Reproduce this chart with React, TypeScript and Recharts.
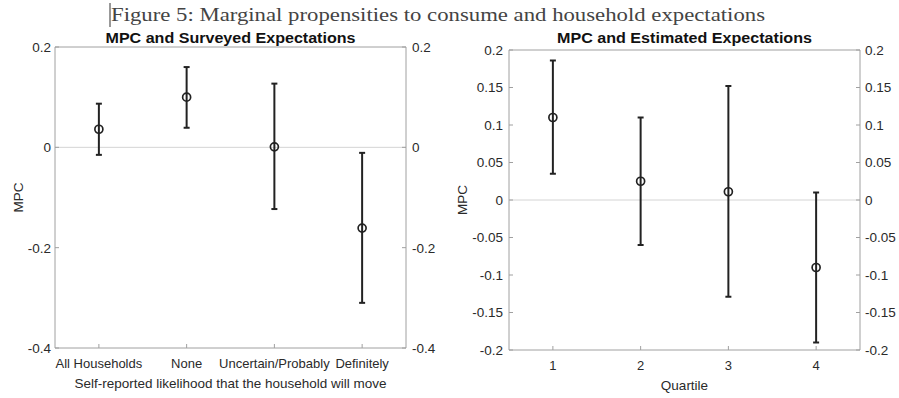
import React from 'react';
import { ComposedChart, Scatter, XAxis, YAxis, ErrorBar, ReferenceLine } from 'recharts';

// ---------- data ----------
const surveyCategories = ['All Households', 'None', 'Uncertain/Probably', 'Definitely'];
const surveyMPC = [0.036, 0.1, 0.001, -0.161];
const surveyLower = [-0.015, 0.039, -0.123, -0.31];
const surveyUpper = [0.087, 0.16, 0.127, -0.011];
const surveyYTicks = [-0.4, -0.2, 0, 0.2];

const quartileLabels = ['1', '2', '3', '4'];
const estimatedMPC = [0.11, 0.025, 0.011, -0.09];
const estimatedLower = [0.035, -0.06, -0.129, -0.19];
const estimatedUpper = [0.186, 0.11, 0.152, 0.01];
const estimatedYTicks = [-0.2, -0.15, -0.1, -0.05, 0, 0.05, 0.1, 0.15, 0.2];

const xPositions = [1, 2, 3, 4];

const captionText = 'Figure 5: Marginal propensities to consume and household expectations';
const leftTitle = 'MPC and Surveyed Expectations';
const rightTitle = 'MPC and Estimated Expectations';
const leftXLabel = 'Self-reported likelihood that the household will move';
const rightXLabel = 'Quartile';
const yLabel = 'MPC';

const build = (mpc: number[], lo: number[], hi: number[]) =>
  xPositions.map((x, i) => ({ x, y: mpc[i], err: [mpc[i] - lo[i], hi[i] - mpc[i]] }));

const surveyData = build(surveyMPC, surveyLower, surveyUpper);
const estimatedData = build(estimatedMPC, estimatedLower, estimatedUpper);

// ---------- styles ----------
const AXIS = '#a0a0a0';
const TEXT = '#2a2a2a';
const MARK = '#222';
const FONT = '"Liberation Sans", Arial, sans-serif';
const TICK_FS = 13.5;
const XTICK_FS = 13;

const BottomTick = (p: any) => {
  const { x, y, payload, labels } = p;
  return (
    <g>
      <line x1={x} x2={x} y1={y} y2={y - 4} stroke={AXIS} strokeWidth={1} />
      <text x={x} y={y + 20} textAnchor="middle" fontSize={XTICK_FS} fontFamily={FONT} fill={TEXT}>
        {labels[payload.value - 1]}
      </text>
    </g>
  );
};

const TopTick = (p: any) => {
  const { x, y } = p;
  return <line x1={x} x2={x} y1={y} y2={y + 4} stroke={AXIS} strokeWidth={1} />;
};

const LeftTick = (p: any) => {
  const { x, y, payload, gap } = p;
  return (
    <g>
      <line x1={x} x2={x + 4} y1={y} y2={y} stroke={AXIS} strokeWidth={1} />
      <text x={x - gap} y={y} dy="0.36em" textAnchor="end" fontSize={TICK_FS} fontFamily={FONT} fill={TEXT}>
        {String(payload.value)}
      </text>
    </g>
  );
};

const RightTick = (p: any) => {
  const { x, y, payload, gap } = p;
  return (
    <g>
      <line x1={x} x2={x - 4} y1={y} y2={y} stroke={AXIS} strokeWidth={1} />
      <text x={x + gap} y={y} dy="0.36em" textAnchor="start" fontSize={TICK_FS} fontFamily={FONT} fill={TEXT}>
        {String(payload.value)}
      </text>
    </g>
  );
};

const Circle = (p: any) => (
  <circle cx={p.cx} cy={p.cy} r={4} fill="none" stroke={MARK} strokeWidth={1.7} />
);

type PanelProps = {
  data: any[];
  labels: string[];
  yTicks: number[];
  width: number;
  height: number;
  leftW: number;
  rightW: number;
  topH: number;
  bottomH: number;
  leftGap: number;
  rightGap: number;
  xLabel: string;
  yLabelX: number;
};

const Panel = (props: PanelProps) => {
  const { data, labels, yTicks, width, height, leftW, rightW, topH, bottomH, leftGap, rightGap, xLabel, yLabelX } = props;
  const domain: [number, number] = [yTicks[0], yTicks[yTicks.length - 1]];
  return (
    <ComposedChart width={width} height={height} margin={{ top: 0, right: 0, bottom: 0, left: 0 }}>
      <XAxis
        xAxisId="b"
        dataKey="x"
        type="number"
        domain={[0.5, 4.5]}
        ticks={xPositions}
        height={bottomH}
        tickSize={0}
        tickMargin={0}
        axisLine={{ stroke: AXIS }}
        tickLine={false}
        tick={(p: any) => <BottomTick {...p} labels={labels} />}
        interval={0}
        label={(lp: any) => {
          const vb = lp.viewBox || {};
          return (
            <text x={vb.x + vb.width / 2} y={vb.y + 40} textAnchor="middle" fontSize={13.5} fontFamily={FONT} fill={TEXT}>
              {xLabel}
            </text>
          );
        }}
      />
      <XAxis
        xAxisId="t"
        orientation="top"
        dataKey="x"
        type="number"
        domain={[0.5, 4.5]}
        ticks={xPositions}
        height={topH}
        tickSize={0}
        tickMargin={0}
        axisLine={{ stroke: AXIS }}
        tickLine={false}
        tick={(p: any) => <TopTick {...p} />}
        interval={0}
      />
      <YAxis
        yAxisId="l"
        type="number"
        domain={domain}
        ticks={yTicks}
        width={leftW}
        tickSize={0}
        tickMargin={0}
        axisLine={{ stroke: AXIS }}
        tickLine={false}
        tick={(p: any) => <LeftTick {...p} gap={leftGap} />}
        interval={0}
        allowDataOverflow
        label={(lp: any) => {
          const vb = lp.viewBox || {};
          const cx = vb.x + yLabelX;
          const cy = vb.y + vb.height / 2;
          return (
            <text
              x={cx}
              y={cy}
              dy="0.36em"
              textAnchor="middle"
              transform={`rotate(-90, ${cx}, ${cy})`}
              fontSize={13.5}
              fontFamily={FONT}
              fill={TEXT}
            >
              {yLabel}
            </text>
          );
        }}
      />
      <YAxis
        yAxisId="r"
        orientation="right"
        type="number"
        domain={domain}
        ticks={yTicks}
        width={rightW}
        tickSize={0}
        tickMargin={0}
        axisLine={{ stroke: AXIS }}
        tickLine={false}
        tick={(p: any) => <RightTick {...p} gap={rightGap} />}
        interval={0}
        allowDataOverflow
      />
      <ReferenceLine xAxisId="b" yAxisId="l" y={0} stroke="#d4d4d4" strokeWidth={1} />
      <Scatter xAxisId="b" yAxisId="l" data={data} dataKey="y" shape={Circle} isAnimationActive={false}>
        <ErrorBar dataKey="err" direction="y" width={3} stroke={MARK} strokeWidth={2} isAnimationActive={false} />
      </Scatter>
    </ComposedChart>
  );
};

export default function App() {
  return (
    <div style={{ position: 'absolute', left: 0, top: 0, width: 899, height: 398, background: '#fff' }}>
      <div style={{ position: 'absolute', left: 0, top: 0 }}>
        <Panel
          data={surveyData}
          labels={surveyCategories}
          yTicks={surveyYTicks}
          width={450}
          height={398}
          leftW={55}
          rightW={44}
          topH={47}
          bottomH={50}
          leftGap={4}
          rightGap={6}
          xLabel={leftXLabel}
          yLabelX={18}
        />
      </div>
      <div style={{ position: 'absolute', left: 450, top: 0 }}>
        <Panel
          data={estimatedData}
          labels={quartileLabels}
          yTicks={estimatedYTicks}
          width={449}
          height={398}
          leftW={59}
          rightW={39}
          topH={50}
          bottomH={48}
          leftGap={6}
          rightGap={5}
          xLabel={rightXLabel}
          yLabelX={12}
        />
      </div>
      <svg width={899} height={60} style={{ position: 'absolute', left: 0, top: 0, pointerEvents: 'none' }}>
        <line x1={110} x2={110} y1={3} y2={27} stroke="#333" strokeWidth={1} />
        <text
          x={111}
          y={21}
          fontSize={18}
          fontFamily='"Liberation Serif", "Times New Roman", serif'
          fill="#444"
          textLength={654}
          lengthAdjust="spacingAndGlyphs"
        >
          {captionText}
        </text>
        <text x={230.5} y={43} textAnchor="middle" fontSize={14.5} fontWeight="bold" fontFamily={FONT} fill="#111" textLength={250} lengthAdjust="spacingAndGlyphs">
          {leftTitle}
        </text>
        <text x={684.5} y={43} textAnchor="middle" fontSize={14.5} fontWeight="bold" fontFamily={FONT} fill="#111" textLength={255} lengthAdjust="spacingAndGlyphs">
          {rightTitle}
        </text>
      </svg>
    </div>
  );
}
